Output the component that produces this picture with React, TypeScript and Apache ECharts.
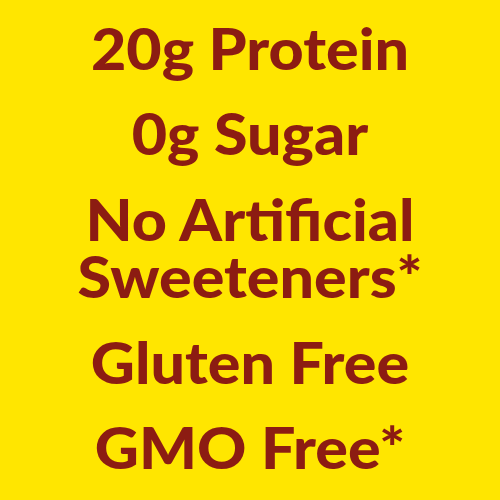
import { useEffect, useRef } from 'react';
import * as echarts from 'echarts';

// claim lines, top to bottom
const claims = ['20g Protein', '0g Sugar', 'No Artificial', 'Sweeteners*', 'Gluten Free', 'GMO Free*'];
// vertical centre of each line's capitals (px)
const lineCenters = [48, 133, 219, 276, 362, 447];

const BG = '#FFE600';
const INK = '#8C1C12';

export default function App() {
  const ref = useRef<HTMLDivElement>(null);

  useEffect(() => {
    document.body.style.margin = '0';
    const dom = ref.current;
    if (!dom) return;
    const chart = echarts.init(dom, undefined, { renderer: 'svg' });

    chart.setOption({
      animation: false,
      backgroundColor: BG,
      graphic: claims.map((text, i) => ({
        type: 'text',
        x: 250,
        y: lineCenters[i],
        scaleX: 1.07,
        style: {
          text,
          fill: INK,
          font: '900 57px Lato, sans-serif',
          lineHeight: 48,
          align: 'center',
          verticalAlign: 'middle',
        },
      })),
    } as echarts.EChartsOption);

    return () => {
      chart.dispose();
    };
  }, []);

  return <div ref={ref} style={{ width: 500, height: 500 }} />;
}
